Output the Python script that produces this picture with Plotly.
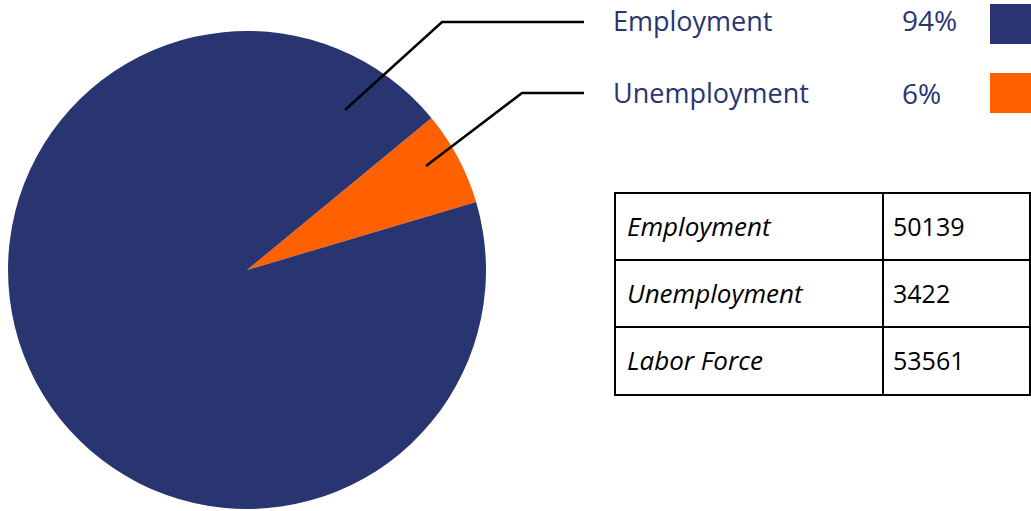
import plotly.graph_objects as go

W, H = 1031, 511

categories = ["Unemployment", "Employment"]
values = [3422, 50139]
colors = ["#FF6000", "#283571"]
table_labels = ["Employment", "Unemployment", "Labor Force"]
table_values = [50139, 3422, 53561]

def px(x):
    return x / W

def py(y):
    return 1 - y / H

fig = go.Figure()
fig.add_trace(go.Pie(
    labels=categories, values=values, sort=False,
    direction="clockwise", rotation=50.5,
    marker=dict(colors=colors, line=dict(width=0)),
    textinfo="none", hoverinfo="label+value+percent",
    domain=dict(x=[px(8), px(486)], y=[py(509), py(31)]),
    showlegend=False,
))

total = sum(values)
shapes = []
annotations = []
font_family = "Open Sans, Noto Sans, sans-serif"
navy = "#283571"

legend_rows = [("Employment", values[1], colors[1], 20, 24),
               ("Unemployment", values[0], colors[0], 93, 93)]
for name, v, c, ytxt, ysq in legend_rows:
    pct = round(v / total * 100)
    annotations.append(dict(x=px(611), y=py(ytxt), xref="paper", yref="paper",
                            text=name, showarrow=False, xanchor="left", yanchor="middle",
                            font=dict(family=font_family, size=27, color=navy)))
    annotations.append(dict(x=px(900), y=py(ytxt), xref="paper", yref="paper",
                            text=f"{pct}%", showarrow=False, xanchor="left", yanchor="middle",
                            font=dict(family=font_family, size=28, color=navy)))
    shapes.append(dict(type="rect", xref="paper", yref="paper",
                       x0=px(990), x1=px(1031), y0=py(ysq - 20), y1=py(ysq + 20),
                       fillcolor=c, line=dict(width=0)))

for pts in [[(345, 110), (442, 22), (584, 22)], [(426, 166), (522, 93), (584, 93)]]:
    path = "M " + " L ".join(f"{px(x)},{py(y)}" for x, y in pts)
    shapes.append(dict(type="path", xref="paper", yref="paper", path=path,
                       line=dict(color="black", width=2.5)))

tx0, tx1, tcol = 615, 1030, 883
ty = [193, 260, 327, 395]
shapes.append(dict(type="rect", xref="paper", yref="paper",
                   x0=px(tx0), x1=px(tx1), y0=py(ty[-1]), y1=py(ty[0]),
                   line=dict(color="black", width=2), fillcolor="rgba(0,0,0,0)"))
shapes.append(dict(type="line", xref="paper", yref="paper",
                   x0=px(tcol), x1=px(tcol), y0=py(ty[-1]), y1=py(ty[0]),
                   line=dict(color="black", width=2)))
for y in ty[1:-1]:
    shapes.append(dict(type="line", xref="paper", yref="paper",
                       x0=px(tx0), x1=px(tx1), y0=py(y), y1=py(y),
                       line=dict(color="black", width=2)))
for i, (lab, val) in enumerate(zip(table_labels, table_values)):
    yc = (ty[i] + ty[i + 1]) / 2 - 1
    annotations.append(dict(x=px(625), y=py(yc), xref="paper", yref="paper",
                            text=f"<i>{lab}</i>", showarrow=False, xanchor="left", yanchor="middle",
                            font=dict(family=font_family, size=26, color="black")))
    annotations.append(dict(x=px(891), y=py(yc), xref="paper", yref="paper",
                            text=str(val), showarrow=False, xanchor="left", yanchor="middle",
                            font=dict(family=font_family, size=25, color="black")))

fig.update_layout(width=W, height=H, margin=dict(l=0, r=0, t=0, b=0),
                  paper_bgcolor="white", plot_bgcolor="white",
                  shapes=shapes, annotations=annotations)
fig.write_html("out.html", config={"displayModeBar": False},
               post_script="document.body.style.margin='0';document.body.style.overflow='hidden';")
